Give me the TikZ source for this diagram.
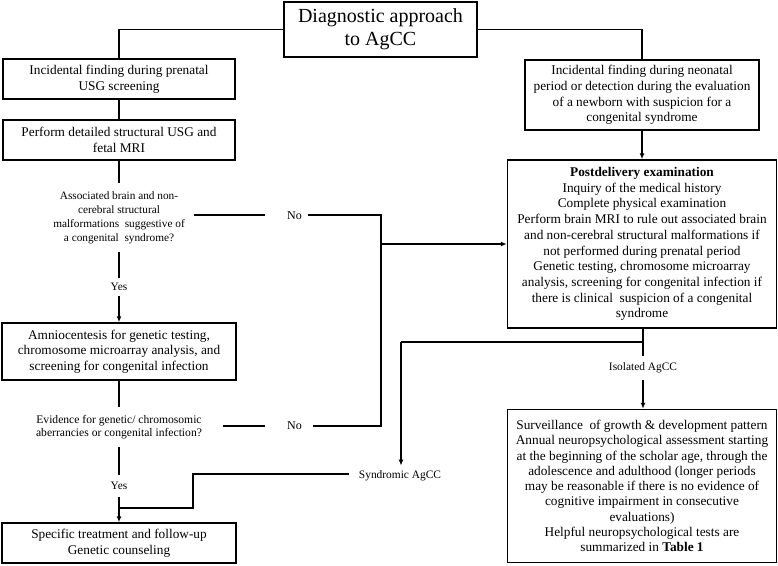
\documentclass[tikz,border=0pt]{standalone}
\usepackage{fontspec}
\setmainfont{Liberation Serif}
\usetikzlibrary{arrows.meta}
\begin{document}
\begin{tikzpicture}[x=1pt,y=-1pt,
  box/.style={draw, line width=1.5pt, align=center, inner sep=0pt, font=\fontsize{13.3}{15.7}\selectfont},
  ques/.style={align=center, inner xsep=9pt, inner ysep=8pt, font=\fontsize{11.3}{14}\selectfont},
  lab/.style={inner sep=0pt, font=\fontsize{11.4}{13}\selectfont},
  conn/.style={line width=1.6pt},
  arr/.style={conn, -{Latex[length=6pt,width=5pt]}}]
\useasboundingbox (0,0) rectangle (778,565);

% boxes
\node[box, font=\fontsize{20}{23}\selectfont, minimum width=193pt, minimum height=55pt] (title) at (380.5,29.5) {Diagnostic approach\\to AgCC};
\node[box, minimum width=232pt, minimum height=40pt] (lb1) at (119,79) {Incidental finding during prenatal\\USG screening};
\node[box, minimum width=232pt, minimum height=40pt] (lb2) at (119,140) {Perform detailed structural USG and\\fetal MRI};
\node[box, minimum width=234pt, minimum height=57pt] (lb3) at (119,351.5) {Amniocentesis for genetic testing,\\chromosome microarray analysis, and\\screening for congenital infection};
\node[box, minimum width=234pt, minimum height=40pt] (lb4) at (119,543) {Specific treatment and follow-up\\Genetic counseling};

\node[box, minimum width=234pt, minimum height=70pt] (rb1) at (642,95) {Incidental finding during neonatal\\period or detection during the evaluation\\of a newborn with suspicion for a\\congenital syndrome};
\node[box, minimum width=269pt, minimum height=168pt] (rb2) at (642,244) {\textbf{Postdelivery examination}\\Inquiry of the medical history\\Complete physical examination\\Perform brain MRI to rule out associated brain\\and non-cerebral structural malformations if\\not performed during prenatal period\\Genetic testing, chromosome microarray\\analysis, screening for congenital infection if\\there is clinical\ \ suspicion of a congenital\\syndrome};
\node[box, font=\fontsize{13.3}{15.3}\selectfont, minimum width=269pt, minimum height=153pt] (rb3) at (642,486) {Surveillance\ \ of growth \& development pattern\\Annual neuropsychological assessment starting\\at the beginning of the scholar age, through the\\adolescence and adulthood (longer periods\\may be reasonable if there is no evidence of\\cognitive impairment in consecutive\\evaluations)\\Helpful neuropsychological tests are\\summarized in \textbf{Table 1}};

% questions and labels
\node[ques] (q1) at (119,217.5) {Associated brain and non-\\cerebral structural\\malformations\ \ suggestive of\\a congenital\ \ syndrome?};
\node[ques, font=\fontsize{11.6}{13}\selectfont] (q2) at (119,427) {Evidence for genetic/ chromosomic\\aberrancies or congenital infection?};
\node[lab, font=\fontsize{12}{14}\selectfont] (no1) at (294.5,216) {No};
\node[lab, font=\fontsize{12}{14}\selectfont] (no2) at (294.5,426) {No};
\node[lab, inner ysep=5pt] (yes1) at (119,287) {Yes};
\node[lab, inner ysep=7pt] (yes2) at (119,486) {Yes};
\node[lab, inner ysep=7pt] (isol) at (643,368) {Isolated AgCC};
\node[lab, inner ysep=5pt] (synd) at (400,476) {Syndromic AgCC};

% junction coordinates
\coordinate (ja) at (381,215);
\coordinate (jb) at (381,426);
\coordinate (jc) at (643,342);
\coordinate (jd) at (401,342);
\coordinate (je) at (193,474);
\coordinate (jf) at (193,508);
\coordinate (jg) at (119,508);

% connectors
\draw[conn] (title.west) -| (lb1.north);
\draw[conn] (title.east) -| (rb1.north);
\draw[conn] (lb1.south) -- (lb2.north);
\draw[conn] (lb2.south) -- (q1.north);
\draw[conn] (q1.south) -- (yes1.north);
\draw[arr] (yes1.south) -- (lb3.north);
\draw[conn] (lb3.south) -- (q2.north);
\draw[conn] (q2.south) -- (yes2.north);
\draw[arr] (yes2.south) -- (lb4.north);

\draw[conn] (q1.east |- ja) -- ([xshift=-22pt]no1.west |- ja);
\draw[conn] ([xshift=6pt]no1.east |- ja) -- (ja) -- (jb) -- ([xshift=11pt]no2.east);
\draw[conn] ([xshift=12pt]q2.east |- no2) -- ([xshift=-22pt]no2.west);
\draw[arr] (ja |- rb2.west) -- (rb2.west);

\draw[arr] (rb1.south) -- (rb2.north);
\draw[conn] (rb2.south -| jc) -- (jc) -- (isol.north);
\draw[arr] (isol.south) -- (rb3.north -| isol);
\draw[conn] (jc) -- (jd);
\draw[arr] (jd) -- (jd |- synd.north);
\draw[conn] ([xshift=-10pt]synd.west |- je) -- (je) -- (jf) -- (jg);
\end{tikzpicture}
\end{document}
